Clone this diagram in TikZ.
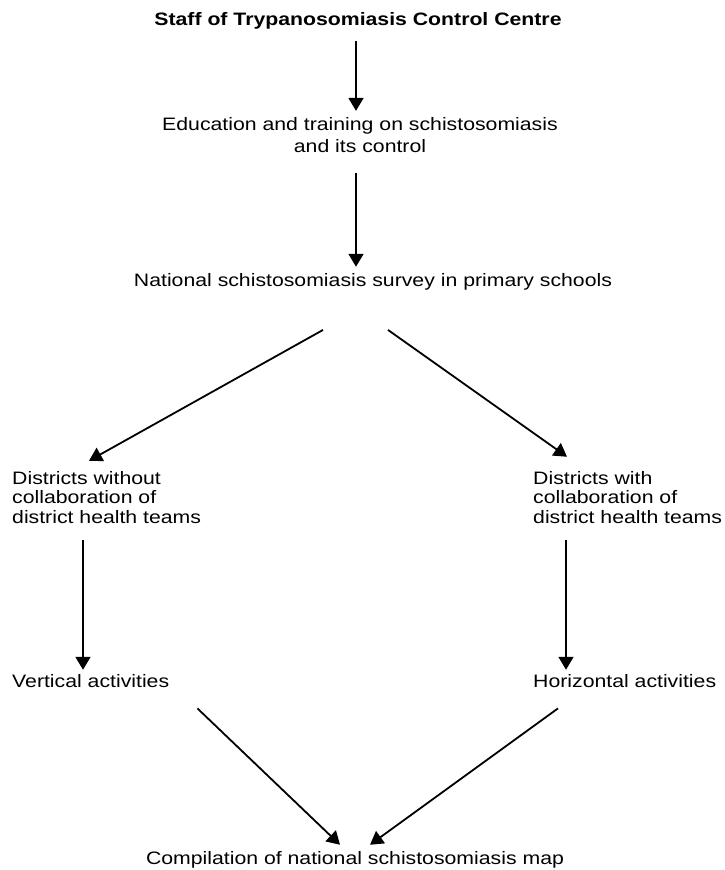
\documentclass[tikz,border=0pt]{standalone}
\usepackage{fontspec}
\setmainfont{Liberation Sans}[FakeStretch=1.18]
\usepackage{tikz}
\usetikzlibrary{arrows.meta}

\tikzset{
  txt/.style={font=\fontsize{18}{21.6}\selectfont, inner sep=0pt},
  blk/.style={font=\fontsize{18}{19.5}\selectfont, inner sep=0pt, align=left, anchor=base west},
  arr/.style={-{Triangle[length=13pt,width=15pt]}, line width=1.8pt},
}

\begin{document}
\begin{tikzpicture}[x=1pt, y=-1pt]
\useasboundingbox (0,0) rectangle (725,870);

\node [txt, font=\fontsize{18}{21.6}\selectfont\bfseries, anchor=base] (staff) at (358,25) {Staff of Trypanosomiasis Control Centre};
\node [txt, align=center, anchor=base] (edu) at (360,152.3) {Education and training on schistosomiasis\\and its control};
\node [txt, anchor=base] (nat) at (373,286) {National schistosomiasis survey in primary schools};

\node [blk] (without) at (12,523) {Districts without\\collaboration of\\district health teams};
\node [blk] (with) at (533,523) {Districts with\\collaboration of\\district health teams};

\node [blk] (vert) at (12,687) {Vertical activities};
\node [blk] (horiz) at (533,687) {Horizontal activities};

\node [txt, anchor=base] (comp) at (355,864) {Compilation of national schistosomiasis map};

% down the middle
\draw [arr] ([shift={(-2,12)}]staff.south) -- ([shift={(-4,-6.6)}]edu.north);
\draw [arr] ([shift={(-4,20)}]edu.south) -- ([shift={(-17,-6)}]nat.north);

% survey splits in two
\draw [arr] ([shift={(-50,40)}]nat.south) -- ([shift={(77,-10)}]without.north west);
\draw [arr] ([shift={(15,40)}]nat.south) -- ([shift={(34,-14)}]with.north west);

\draw [arr] ([shift={(71,17)}]without.south west) -- ([shift={(71,-4)}]vert.north west);
\draw [arr] ([shift={(33,17)}]with.south west) -- ([shift={(33,-4)}]horiz.north west);

% back together
\draw [arr] ([shift={(28,21)}]vert.south east) -- ([shift={(-15,-6)}]comp.north);
\draw [arr] ([shift={(25,21)}]horiz.south west) -- ([shift={(15,-6)}]comp.north);
\end{tikzpicture}
\end{document}
